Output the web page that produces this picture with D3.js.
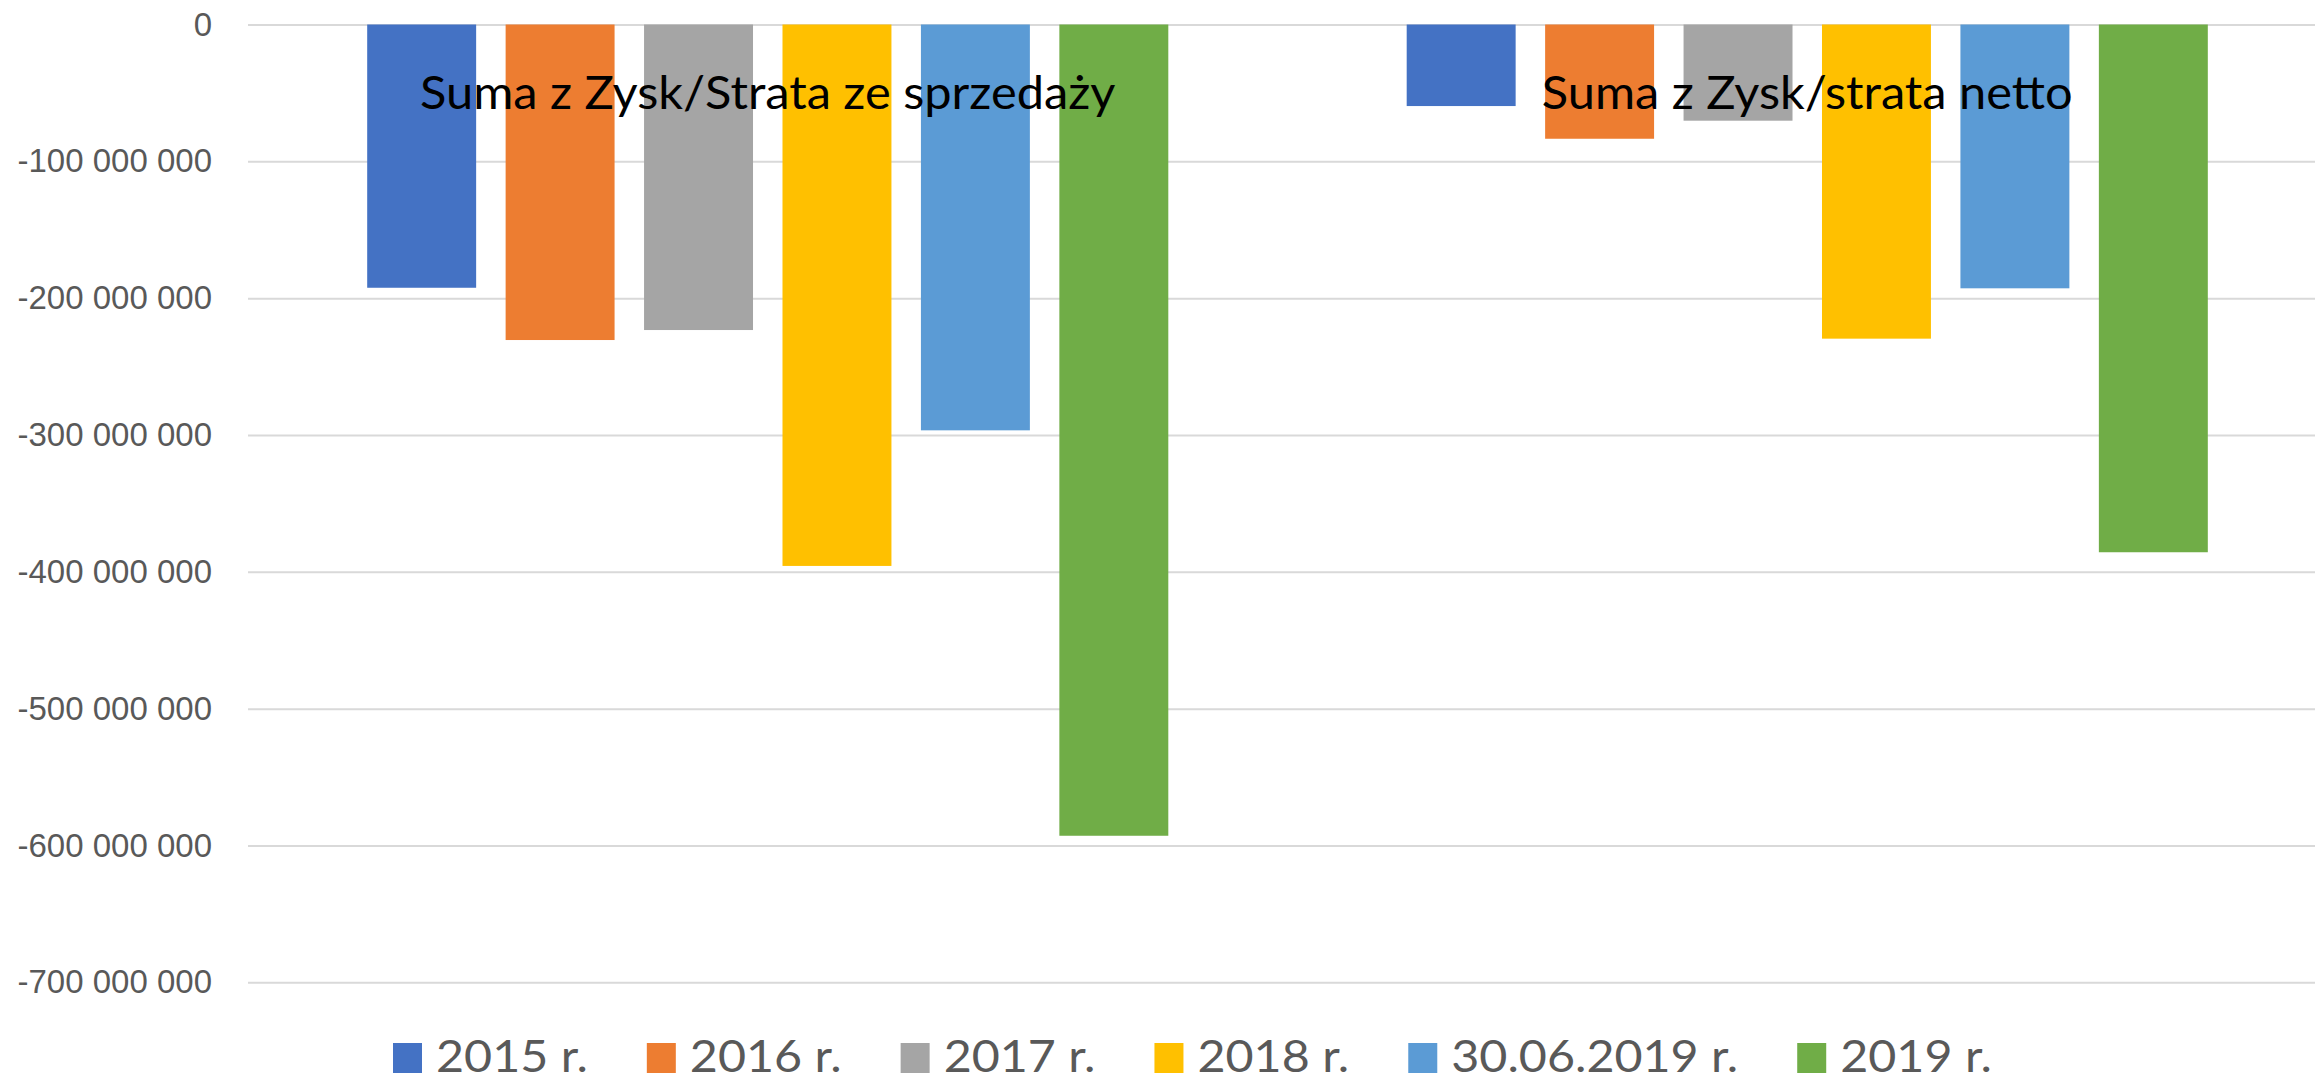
<!DOCTYPE html>
<html>
<head>
<meta charset="utf-8">
<script src="https://cdn.jsdelivr.net/npm/d3@7"></script>
<style>
  body { margin: 0; background: #fff; }
  svg { display: block; }
</style>
</head>
<body>
<div id="chart"></div>
<script>
var w = 2315;
var h = 1081;

// categories, series and values
var categories = ["Suma z Zysk/Strata ze sprzedaży", "Suma z Zysk/strata netto"];
var seriesNames = ["2015 r.", "2016 r.", "2017 r.", "2018 r.", "30.06.2019 r.", "2019 r."];
var seriesColors = ["#4472C4", "#ED7D31", "#A5A5A5", "#FFC000", "#5B9BD5", "#70AD47"];
var salesValues = [-192400000, -230600000, -223300000, -395700000, -296600000, -592900000];
var netValues = [-59600000, -83500000, -70300000, -229600000, -192800000, -385700000];
var yTicks = [0, -100000000, -200000000, -300000000, -400000000, -500000000, -600000000, -700000000];

var valuesByCategory = [salesValues, netValues];

var plotLeft = 248, plotRight = 2327, plotTop = 24.5, plotBottom = 982.3;

var x0 = d3.scaleBand()
    .domain(categories)
    .range([plotLeft, plotRight]);

var x1 = d3.scaleBand()
    .domain(seriesNames)
    .range([0, x0.bandwidth()])
    .paddingInner(0.213)
    .paddingOuter(0.861);

var yScale = d3.scaleLinear()
    .domain([-700000000, 0])
    .range([plotBottom, plotTop]);

var pl = d3.formatLocale({ decimal: ",", thousands: " ", grouping: [3], currency: ["", " zł"], minus: "-" });
var fmt = pl.format(",");

var svg = d3.select("#chart")
    .append("svg")
    .attr("width", w)
    .attr("height", h);

// gridlines
var grid = svg.append("g")
    .attr("transform", "translate(" + plotLeft + ",0)")
    .call(d3.axisLeft(yScale).tickValues(yTicks).tickSize(-(w - plotLeft)).tickFormat(""));
grid.select(".domain").remove();
grid.selectAll("line").attr("stroke", "#D9D9D9").attr("stroke-width", 2);

// y axis labels
var yAxis = svg.append("g")
    .attr("transform", "translate(" + plotLeft + ",0)")
    .call(d3.axisLeft(yScale).tickValues(yTicks).tickSize(0).tickPadding(36).tickFormat(fmt));
yAxis.select(".domain").remove();
yAxis.selectAll("text")
    .attr("fill", "#595959")
    .style("font-family", "'Liberation Sans', Arial, sans-serif")
    .style("font-size", "33px");

// bars
var groups = svg.append("g").selectAll("g")
    .data(categories)
    .join("g")
    .attr("transform", function (d) { return "translate(" + x0(d) + ",0)"; });

groups.selectAll("rect")
    .data(function (d, i) {
        return valuesByCategory[i].map(function (v, j) { return { name: seriesNames[j], value: v, color: seriesColors[j] }; });
    })
    .join("rect")
    .attr("x", function (d) { return x1(d.name); })
    .attr("width", x1.bandwidth())
    .attr("y", yScale(0))
    .attr("height", function (d) { return yScale(d.value) - yScale(0); })
    .attr("fill", function (d) { return d.color; });

// category labels (sit on top of the bars)
svg.append("g").selectAll("text")
    .data(categories)
    .join("text")
    .attr("x", function (d) { return x0(d) + x0.bandwidth() / 2; })
    .attr("y", 109)
    .attr("text-anchor", "middle")
    .attr("fill", "#000")
    .style("font-family", "Lato, sans-serif")
    .style("font-size", "46px")
    .text(function (d) { return d; })
    .each(function () {
        this.setAttribute("textLength", this.getComputedTextLength() * 1.06);
        this.setAttribute("lengthAdjust", "spacingAndGlyphs");
    });

// legend
var legend = svg.append("g").attr("transform", "translate(393,0)");
var lx = 0;
seriesNames.forEach(function (name, i) {
    var item = legend.append("g").attr("transform", "translate(" + lx + ",0)");
    item.append("rect")
        .attr("x", 0)
        .attr("y", 1043)
        .attr("width", 29)
        .attr("height", 30)
        .attr("fill", seriesColors[i]);
    var t = item.append("text")
        .attr("x", 43)
        .attr("y", 1072)
        .attr("fill", "#595959")
        .style("font-family", "Lato, sans-serif")
        .style("font-size", "44px")
        .text(name);
    var len = t.node().getComputedTextLength() * 1.1;
    t.attr("textLength", len).attr("lengthAdjust", "spacingAndGlyphs");
    lx += 43 + len + 59;
});
</script>
</body>
</html>
